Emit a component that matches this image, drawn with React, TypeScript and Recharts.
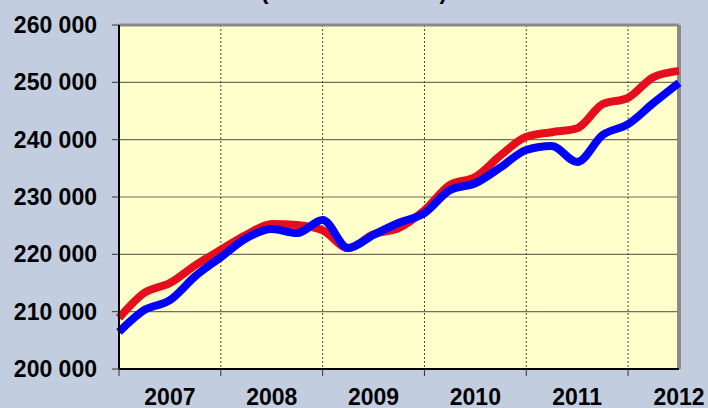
import { LineChart, Line, XAxis, YAxis, CartesianGrid, ReferenceLine } from 'recharts'

// months since Jan 2007, quarterly
const months = [0, 3, 6, 9, 12, 15, 18, 21, 24, 27, 30, 33, 36, 39, 42, 45, 48, 51, 54, 57, 60, 63, 66]
const redSeries = [
  208900, 213300, 215000, 218100, 220800, 223400, 225300, 225100, 224200, 221100, 223500, 224600,
  227700, 232100, 233500, 237300, 240500, 241300, 242000, 246200, 247300, 250900, 252000,
]
const blueSeries = [
  206450, 210300, 212000, 216200, 219500, 222800, 224400, 223700, 226000, 221100, 223400, 225500,
  227200, 231200, 232400, 235200, 238200, 238900, 236100, 240800, 242700, 246400, 249900,
]
const years = ['2007', '2008', '2009', '2010', '2011', '2012']
const yTicks = [200000, 210000, 220000, 230000, 240000, 250000, 260000]
const gridMonths = [0, 12, 24, 36, 48, 60]
const labelMonths = [6, 18, 30, 42, 54, 66]

const data = months.map((m, i) => ({ m, red: redSeries[i], blue: blueSeries[i] }))

const fmt = (v: number) => `${Math.floor(v / 1000)} ${String(v % 1000).padStart(3, '0')}`
const labelStyle = { fontFamily: 'Liberation Sans, Arial, sans-serif', fontWeight: 700, fontSize: 23, fill: '#000' }

export default function App() {
  return (
    <div style={{ position: 'absolute', left: 0, top: 0, width: 708, height: 408, background: '#c3cde0', overflow: 'hidden' }}>
      {/* title sits mostly above the top edge, as in the reference */}
      <div
        style={{
          position: 'absolute', left: 0, width: 708, top: -20, textAlign: 'center', lineHeight: '23px',
          fontFamily: 'Liberation Sans, Arial, sans-serif', fontWeight: 700, fontSize: 23, color: '#000',
        }}
      >
        (données brutes)
      </div>
      <LineChart width={708} height={408} data={data} margin={{ top: 25, right: 29, left: 0, bottom: 0 }}>
        <CartesianGrid vertical={false} stroke="#6f6f5c" strokeWidth={1.2} fill="#ffffcc" fillOpacity={1} />
        <CartesianGrid horizontal={false} stroke="#444" strokeDasharray="2 2" />
        <XAxis
          dataKey="m"
          type="number"
          domain={[0, 66]}
          ticks={gridMonths}
          tickFormatter={() => ''}
          height={7}
          tickSize={7}
          stroke="#000"
          strokeWidth={2}
          tickLine={{ stroke: '#333', strokeWidth: 1 }}
        />
        <XAxis
          xAxisId="lbl"
          dataKey="m"
          type="number"
          domain={[0, 66]}
          ticks={labelMonths}
          tickFormatter={(v: number) => years[labelMonths.indexOf(v)]}
          height={32}
          axisLine={false}
          tickLine={false}
          tickSize={0}
          tickMargin={13}
          tick={labelStyle}
          interval={0}
        />
        <YAxis
          type="number"
          domain={[200000, 260000]}
          ticks={yTicks}
          tickFormatter={fmt}
          width={119}
          tickSize={7}
          tickMargin={15}
          stroke="#000"
          strokeWidth={2}
          tickLine={{ stroke: '#333', strokeWidth: 1 }}
          tick={labelStyle}
          interval={0}
        />
        <ReferenceLine y={260000} stroke="#8a8a8a" strokeWidth={3} />
        <ReferenceLine x={66} stroke="#8a8a8a" strokeWidth={4} />
        <Line type="monotone" dataKey="red" stroke="#e60d1c" strokeWidth={8} dot={false} isAnimationActive={false} />
        <Line type="monotone" dataKey="blue" stroke="#0000ff" strokeWidth={8} dot={false} isAnimationActive={false} />
      </LineChart>
    </div>
  )
}
